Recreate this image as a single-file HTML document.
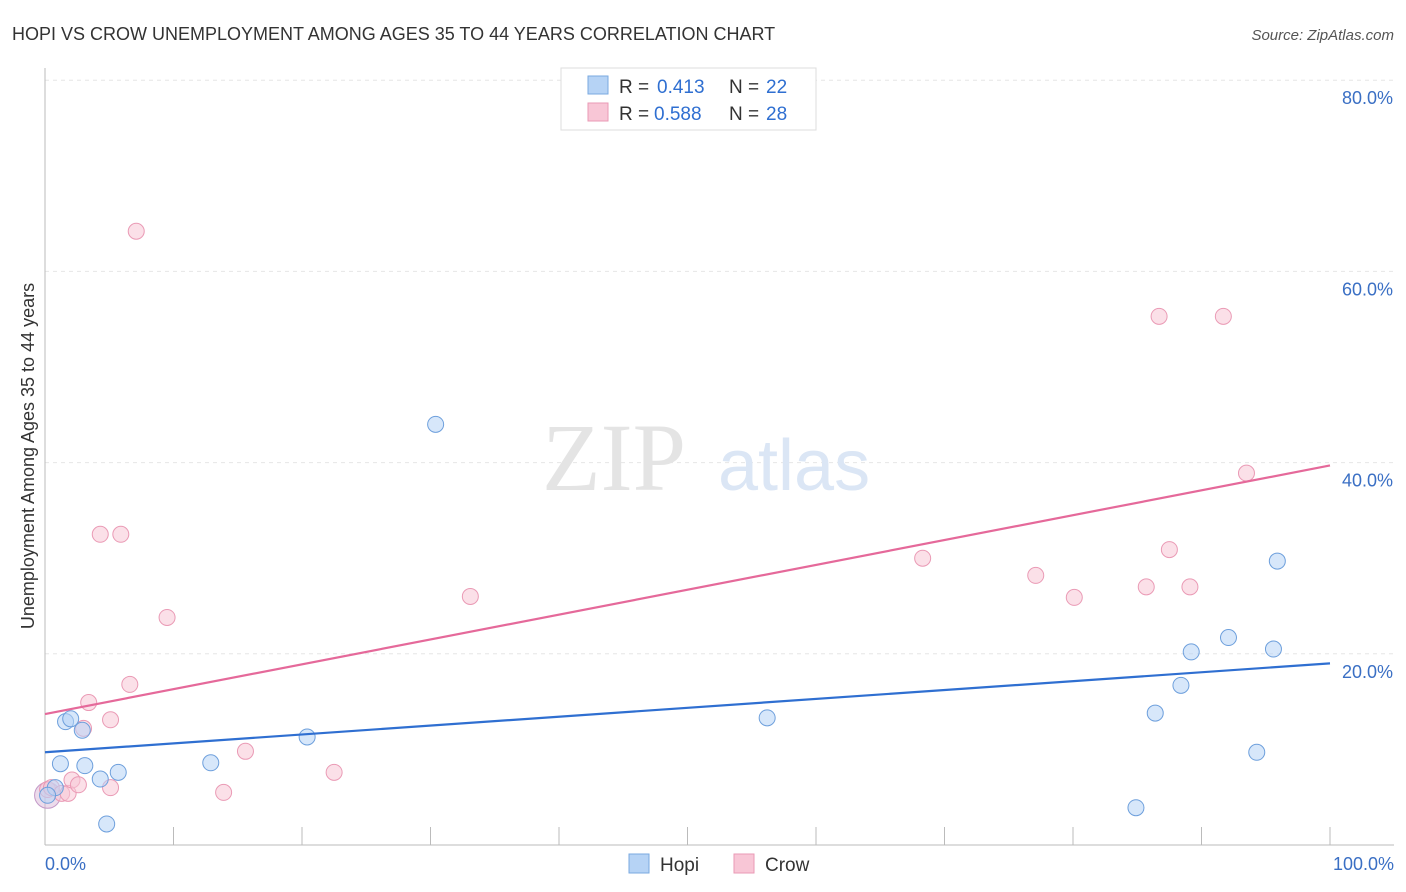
<!DOCTYPE html>
<html><head><meta charset="utf-8"><style>
body{margin:0;background:#fff;font-family:"Liberation Sans",sans-serif}
svg{display:block}
</style></head><body>
<svg width="1406" height="892">
<text x="12" y="40" font-size="18" fill="#333">HOPI VS CROW UNEMPLOYMENT AMONG AGES 35 TO 44 YEARS CORRELATION CHART</text>
<text x="1394" y="40" font-size="15" fill="#555" text-anchor="end" font-style="italic">Source: ZipAtlas.com</text>
<g id="grid"></g>
<text x="686" y="490" font-size="96" fill="#e4e4e4" text-anchor="end" font-family="Liberation Serif">ZIP</text>
<text x="718" y="490" font-size="72" fill="#dbe6f5">atlas</text>
<g id="marks"></g>
<text transform="translate(34,456) rotate(-90)" font-size="18" fill="#333" text-anchor="middle">Unemployment Among Ages 35 to 44 years</text>
<text x="45" y="870" font-size="18" fill="#3a6fc4">0.0%</text>
<text x="1394" y="870" font-size="18" fill="#3a6fc4" text-anchor="end">100.0%</text>
<g>
<rect x="561" y="68" width="255" height="62" fill="#fff" stroke="#ddd"/>
<rect x="588" y="76" width="20" height="18" fill="#b6d3f5" stroke="#7aa9e0"/>
<rect x="588" y="103" width="20" height="18" fill="#f8c6d6" stroke="#ea9ab5"/>
<text x="619" y="93" font-size="19" fill="#333">R =</text>
<text x="657" y="93" font-size="19" fill="#2f6fd1">0.413</text>
<text x="729" y="93" font-size="19" fill="#333">N =</text>
<text x="766" y="93" font-size="19" fill="#2f6fd1">22</text>
<text x="619" y="120" font-size="19" fill="#333">R =</text>
<text x="654" y="120" font-size="19" fill="#2f6fd1">0.588</text>
<text x="729" y="120" font-size="19" fill="#333">N =</text>
<text x="766" y="120" font-size="19" fill="#2f6fd1">28</text>
</g>
<g>
<rect x="629" y="854" width="20" height="19" fill="#b6d3f5" stroke="#7aa9e0"/>
<text x="660" y="871" font-size="19" fill="#333">Hopi</text>
<rect x="734" y="854" width="20" height="19" fill="#f8c6d6" stroke="#ea9ab5"/>
<text x="765" y="871" font-size="19" fill="#333">Crow</text>
</g>
</svg>
<script>
const hopiX=[0.8,1.2,1.6,2.0,2.9,3.1,4.3,4.8,5.7,12.9,20.4,30.4,56.2,84.9,86.4,88.4,89.2,92.1,94.3,95.6,95.9,0.2];
const hopiY=[6.0,8.5,12.9,13.2,12.0,8.3,6.9,2.2,7.6,8.6,11.3,44.0,13.3,3.9,13.8,16.7,20.2,21.7,9.7,20.5,29.7,5.2];
const crowX=[0.2,0.5,1.3,1.8,2.1,2.6,3.0,3.4,4.3,5.1,5.1,5.9,6.6,7.1,9.5,13.9,15.6,22.5,33.1,68.3,77.1,80.1,85.7,86.7,87.5,89.1,91.7,93.5];
const crowY=[5.8,6.0,5.4,5.4,6.8,6.3,12.2,14.9,32.5,13.1,6.0,32.5,16.8,64.2,23.8,5.5,9.8,7.6,26.0,30.0,28.2,25.9,27.0,55.3,30.9,27.0,55.3,38.9];
const hopiTrend=[9.7,19.0];
const crowTrend=[13.7,39.7];
const yTicks=[20,40,60,80];
const yTickLabels=["20.0%","40.0%","60.0%","80.0%"];
const NS='http://www.w3.org/2000/svg';
const sx=v=>45+v*12.85, sy=v=>845-v*9.56;
function mk(t,a,p){const e=document.createElementNS(NS,t);for(const k in a)e.setAttribute(k,a[k]);p.appendChild(e);return e;}
const g=document.getElementById('grid'), m=document.getElementById('marks');
yTicks.forEach((v,i)=>{
 const l=mk('line',{x1:45,x2:1394,y1:sy(v),y2:sy(v),stroke:'#e6e6e6','stroke-dasharray':'4,4'},g);
 
 
 const t=mk('text',{x:1393,y:sy(v)+24,'font-size':18,fill:'#3a6fc4','text-anchor':'end'},g);
 t.textContent=yTickLabels[i];
 
 
});
const ya=mk('line',{x1:45,x2:45,y1:68,y2:845,stroke:'#bbb'},g);


const xa=mk('line',{x1:45,x2:1394,y1:845,y2:845,stroke:'#bbb'},g);


for(let i=0;i<=10;i++){const t=mk('line',{x1:sx(i*10),x2:sx(i*10),y1:827,y2:845,stroke:'#bbb'},g);
 
 }
function pts(X,Y,fill,stroke,name){X.forEach((x,i)=>{const c=mk('circle',{cx:sx(x),cy:sy(Y[i]),r:8,fill:fill,'fill-opacity':0.55,stroke:stroke,'stroke-width':1},m);
 
 });}
const big=mk('circle',{cx:sx(0.2),cy:sy(5.2),r:13,fill:'#d9b8d8','fill-opacity':0.5,stroke:'#c49ac8'},m);


pts(crowX,crowY,'#f8c6d6','#ea9ab5','crow-point');
pts(hopiX,hopiY,'#b6d3f5','#6d9fdc','hopi-point');
const hl=mk('line',{x1:sx(0),y1:sy(hopiTrend[0]),x2:sx(100),y2:sy(hopiTrend[1]),stroke:'#2f6fd1','stroke-width':2.2},m);


const cl=mk('line',{x1:sx(0),y1:sy(crowTrend[0]),x2:sx(100),y2:sy(crowTrend[1]),stroke:'#e5699a','stroke-width':2.2},m);


</script>
</body></html>
